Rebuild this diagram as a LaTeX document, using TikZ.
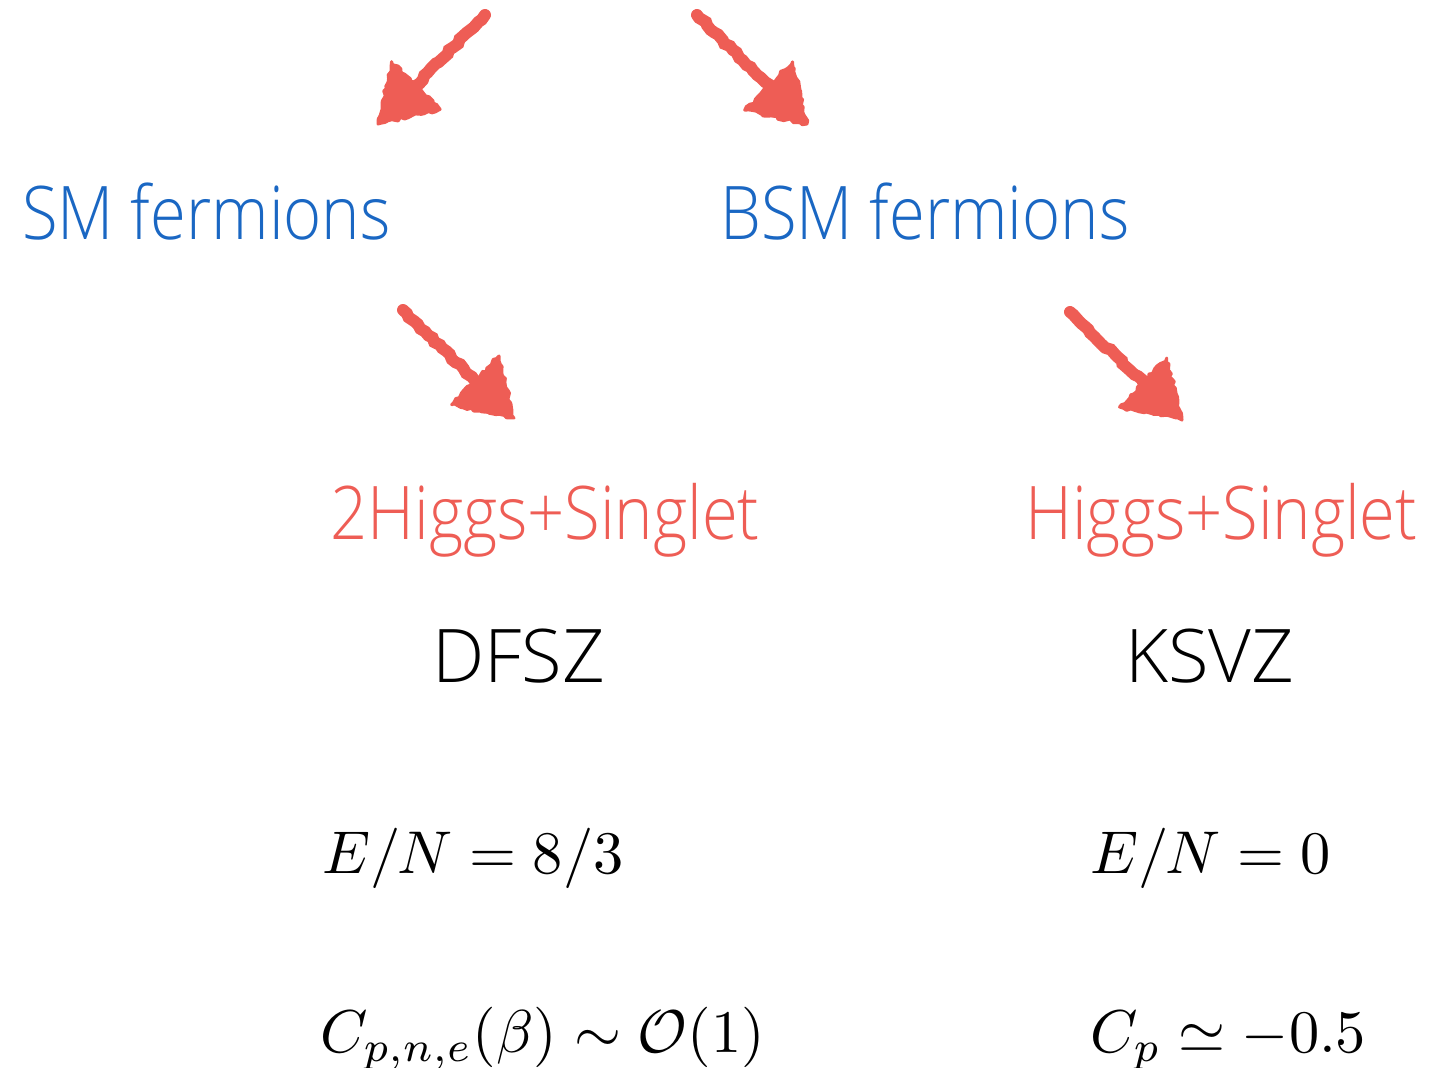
\RequirePackage{fix-cm}
\documentclass[tikz,border=0pt]{standalone}
\usepackage[no-math]{fontspec}
\setmainfont{Open Sans}[UprightFont=* Light]
\usetikzlibrary{calc,decorations.pathmorphing}
\definecolor{smblue}{HTML}{1A67C3}
\definecolor{chalkred}{HTML}{EE5D55}
\tikzset{
  lbl/.style={inner sep=0pt, anchor=base west, font=\fontsize{37}{44}\selectfont},
  mth/.style={inner sep=0pt, anchor=base west, font=\fontsize{10}{12}\selectfont},
  chalkshaft/.style={draw=chalkred, line width=6pt, line cap=round, decorate,
    decoration={random steps, segment length=2.5pt, amplitude=0.7pt}},
  chalkhead/.style={fill=chalkred, draw=chalkred, line width=1.5pt, line join=round, decorate,
    decoration={random steps, segment length=2pt, amplitude=0.9pt}},
}
\newcommand\narrowtext[1]{\scalebox{0.88}[1]{#1}}
\newcommand\bigmath[1]{\scalebox{3.02}{$#1$}}
\newcommand\chalkarrow[2]{%
  \coordinate (#2m) at ($(#2)!27pt!(#1)$);
  \coordinate (#2l) at ($(#2m)!17pt!90:(#2)$);
  \coordinate (#2r) at ($(#2m)!17pt!-90:(#2)$);
  \draw[chalkshaft] (#1) -- ($(#2)!20pt!(#1)$);
  \filldraw[chalkhead] (#2) -- (#2l) -- (#2r) -- cycle;
}
\begin{document}
\begin{tikzpicture}[x=0.5pt, y=-0.5pt]
  \useasboundingbox (0,0) rectangle (1430,1068);
  % labels
  \node[lbl, text=smblue] (sm) at (22,240) {\narrowtext{SM fermions}};
  \node[lbl, text=smblue] (bsm) at (720,240) {\narrowtext{BSM fermions}};
  \node[lbl, text=chalkred] (dh) at (330,540) {\narrowtext{2Higgs+Singlet}};
  \node[lbl, text=chalkred] (hs) at (1025,540) {\narrowtext{Higgs+Singlet}};
  \node[lbl] (dfsz) at (432,683) {DFSZ};
  \node[lbl] (ksvz) at (1125,683) {KSVZ};
  \node[mth] (en1) at (322,873) {\bigmath{E/N=8/3}};
  \node[mth] (en2) at (1090,873) {\bigmath{E/N=0}};
  \node[mth] (cp1) at (320,1052) {\bigmath{C_{p,n,e}(\beta)\sim\mathcal{O}(1)}};
  \node[mth] (cp2) at (1090,1052) {\bigmath{C_p\simeq-0.5}};
  % arrows
  \coordinate (a1s) at (485,15);   \coordinate (a1t) at (378,124);
  \coordinate (a2s) at (697,15);   \coordinate (a2t) at (807,124);
  \coordinate (a3s) at (403,310);  \coordinate (a3t) at (514,418);
  \coordinate (a4s) at (1070,312); \coordinate (a4t) at (1182,420);
  \chalkarrow{a1s}{a1t}
  \chalkarrow{a2s}{a2t}
  \chalkarrow{a3s}{a3t}
  \chalkarrow{a4s}{a4t}
\end{tikzpicture}
\end{document}
